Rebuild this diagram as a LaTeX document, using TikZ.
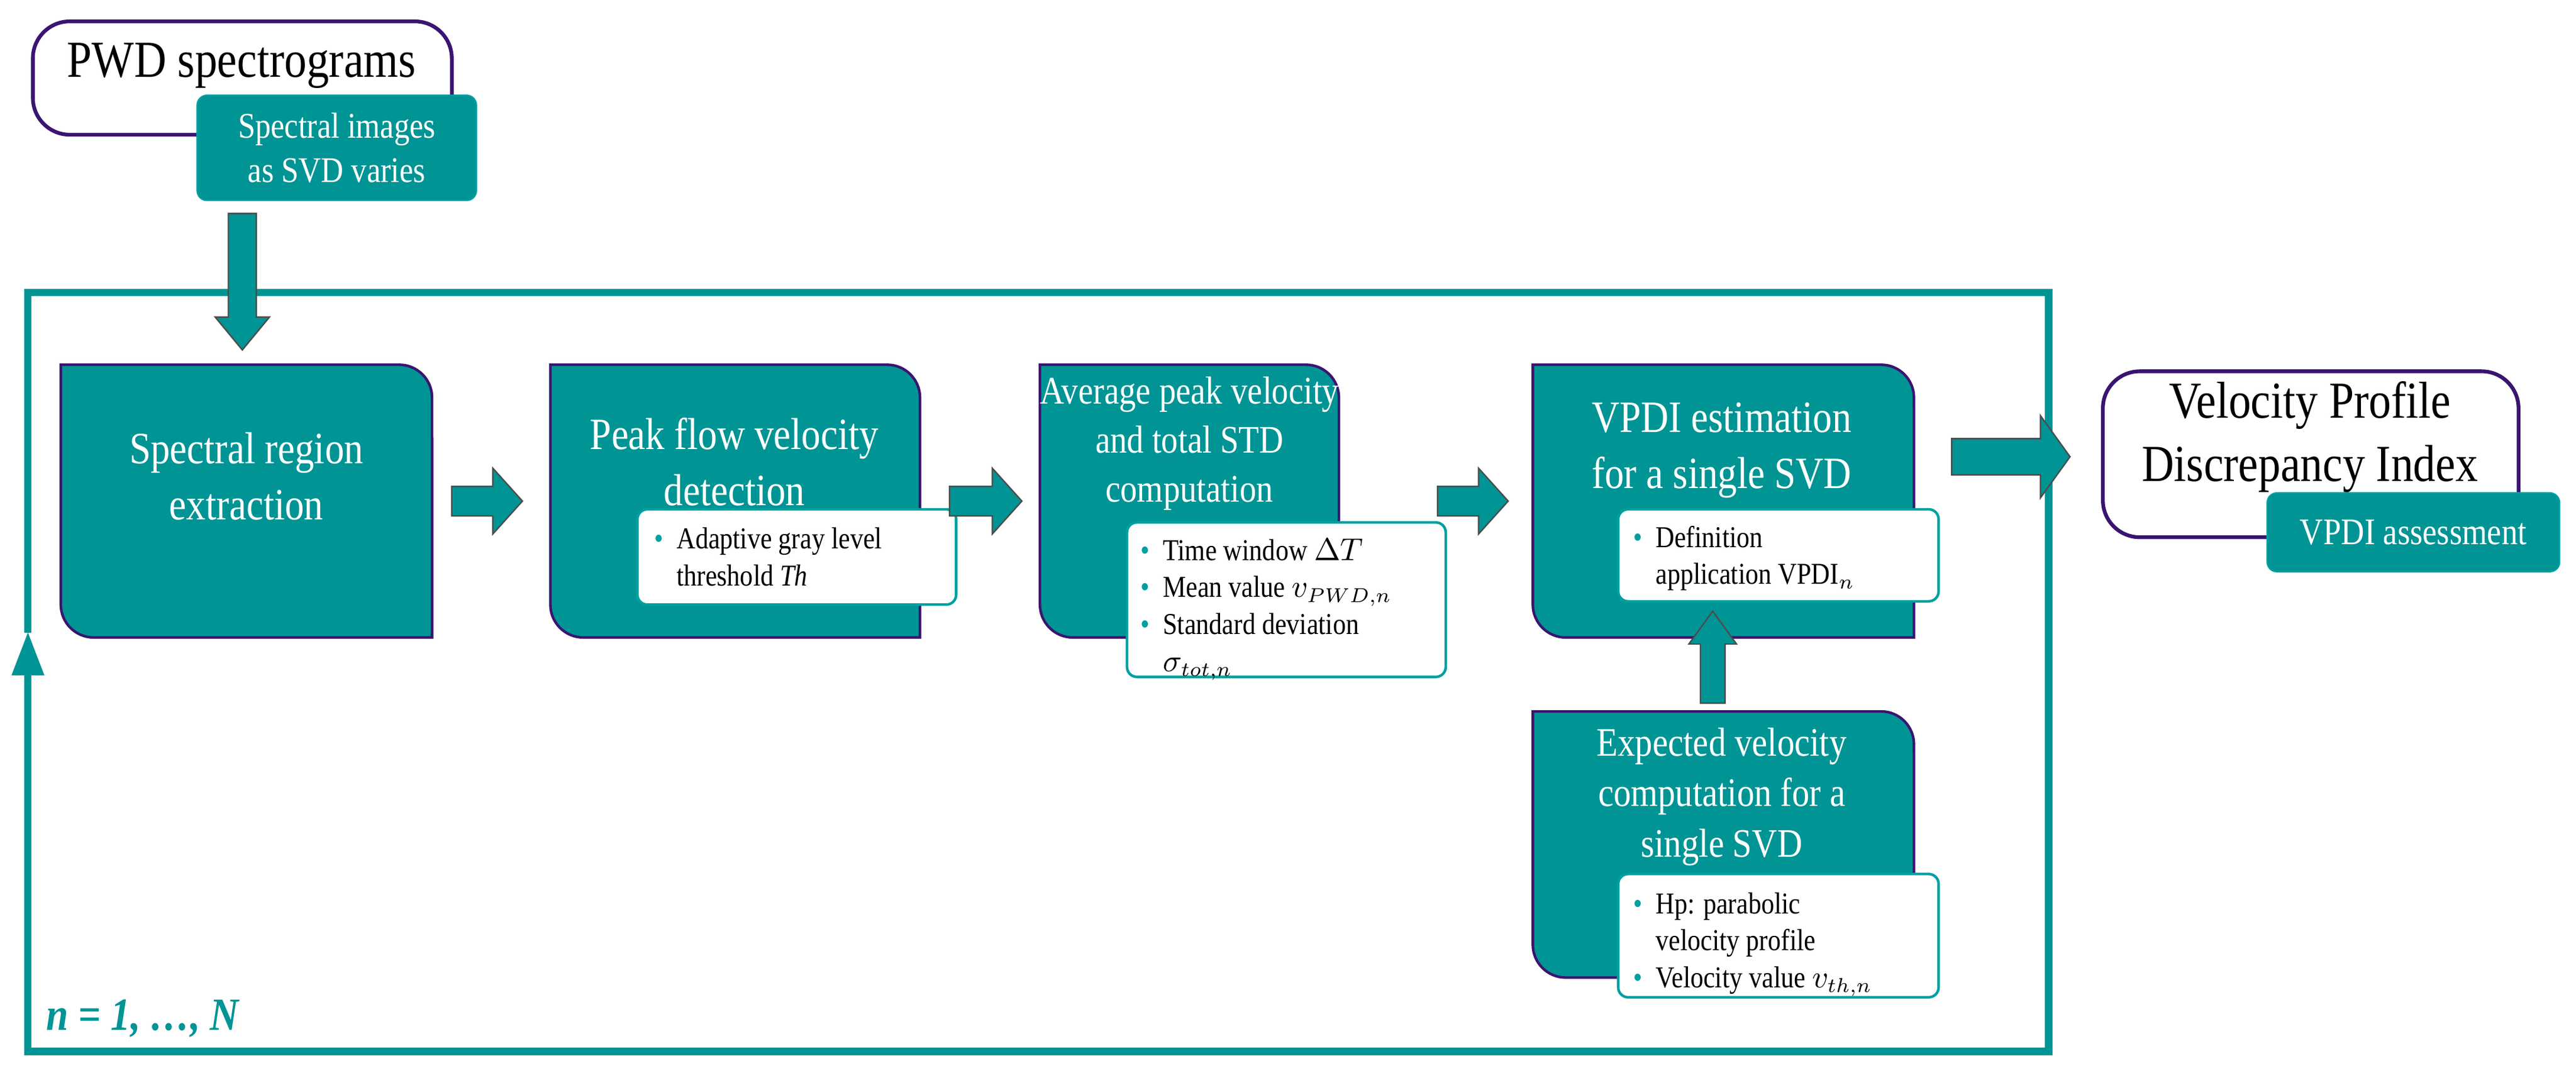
\documentclass[tikz,border=0pt]{standalone}
\usepackage{fontspec}
\setmainfont[FakeStretch=0.86]{Liberation Serif}
\usepackage{amsmath}
\definecolor{teal1}{HTML}{009494}
\definecolor{tealb}{HTML}{00A0A0}
\definecolor{purp}{HTML}{3A1470}
\begin{document}
\begin{tikzpicture}[x=0.02cm,y=0.02cm,
  btxt/.style={text=white,align=center,font=\fontsize{15.5}{19.5}\selectfont},
  stxt/.style={text=black,align=left,font=\fontsize{10.5}{12.8}\selectfont,anchor=north west,inner sep=0pt},
  arr/.style={fill=teal1,draw=black!70,line width=0.5pt,line join=miter},
  frame/.style={draw=teal1,line width=2.5pt}]
\useasboundingbox (0,0) rectangle (1568,653);
% macros
\newcommand\mybx[5]{% name x1 y1 x2 y2 (display y downward)
  \path[fill=teal1,draw=purp,line width=0.9pt] (#2,{653-#3}) -- ({#4-20},{653-#3}) arc[start angle=90,end angle=0,radius=0.4cm] -- (#4,{653-#5}) -- ({#2+20},{653-#5}) arc[start angle=270,end angle=180,radius=0.4cm] -- cycle;
  \coordinate (#1) at ({(#2+#4)/2},{653-(#3+#5)/2});}
\newcommand\mysb[5]{%
  \path[fill=white,draw=tealb,line width=0.9pt,rounded corners=0.12cm] (#2,{653-#3}) rectangle (#4,{653-#5});
  \coordinate (#1) at (#2,{653-#3});}
\newcommand\rarr[5]{% x1 x2 yc shafthalf headhalf
  \path[arr] (#1,{653-#3+#4}) -- ({#2-18},{653-#3+#4}) -- ({#2-18},{653-#3+#5}) -- (#2,{653-#3}) -- ({#2-18},{653-#3-#5}) -- ({#2-18},{653-#3-#4}) -- (#1,{653-#3-#4}) -- cycle;}
\newcommand\bul{\textcolor{tealb}{\textbullet}}
% frame
\draw[frame] (17,{653-385}) -- (17,{653-178}) -- (1247,{653-178}) -- (1247,{653-640}) -- (17,{653-640}) -- (17,{653-410});
\fill[teal1] (17,{653-385}) -- (7,{653-411}) -- (27,{653-411}) -- cycle;
\node[text=teal1,font=\fontsize{16}{18}\selectfont\bfseries\itshape,anchor=west] (nn) at (22,{653-620}) {n = 1, …, N};
% PWD
\path[fill=white,draw=purp,line width=1.3pt,rounded corners=0.45cm] (20,{653-13}) rectangle (275,{653-82});
\node[font=\fontsize{18}{20}\selectfont] (pwd) at (147,{653-40}) {PWD spectrograms};
\path[fill=teal1,draw=tealb,line width=0.5pt,rounded corners=0.12cm] (120,{653-58}) rectangle (290,{653-122});
\node[btxt,font=\fontsize{12.5}{15.5}\selectfont] (pwdt) at (205,{653-90}) {Spectral images\\as SVD varies};
% down arrow
\path[arr] (139,{653-130}) -- (156,{653-130}) -- (156,{653-193}) -- (164,{653-193}) -- (147.5,{653-213}) -- (131,{653-193}) -- (139,{653-193}) -- cycle;
% boxes
\mybx{b1}{37}{222}{263}{388}
\node[btxt] (t1) at (150,{653-290}) {Spectral region\\extraction};
\mybx{b2}{335}{222}{560}{388}
\node[btxt] (t2) at (447,{653-281}) {Peak flow velocity\\detection};
\mysb{s2}{388}{310}{582}{368}
\node[stxt] (st2) at (398,{653-318}) {\begin{tabular}{@{}l@{\ \ }l@{}}\bul & Adaptive gray level\\ & threshold \textit{Th}\end{tabular}};
\mybx{b3}{633}{222}{815}{388}
\node[btxt,font=\fontsize{13.5}{17}\selectfont] (t3) at (724,{653-270}) {Average peak velocity\\and total STD\\computation};
\mysb{s3}{686}{318}{880}{412}
\node[stxt] (st3) at (694,{653-325}) {\begin{tabular}{@{}l@{\ \ }l@{}}\bul & Time window $\Delta T$\\\bul & Mean value $v_{PWD,n}$\\\bul & Standard deviation\\ & $\sigma_{tot,n}$\end{tabular}};
\mybx{b4}{933}{222}{1165}{388}
\node[btxt] (t4) at (1048,{653-274}) {VPDI estimation\\for a single SVD};
\mysb{s4}{985}{310}{1180}{366}
\node[stxt] (st4) at (994,{653-317}) {\begin{tabular}{@{}l@{\ \ }l@{}}\bul & Definition\\ & application VPDI$_{n}$\end{tabular}};
\mybx{b5}{933}{433}{1165}{595}
\node[btxt,font=\fontsize{14}{17.5}\selectfont] (t5) at (1048,{653-485}) {Expected velocity\\computation for a\\single SVD};
\mysb{s5}{985}{532}{1180}{607}
\node[stxt] (st5) at (994,{653-540}) {\begin{tabular}{@{}l@{\ \ }l@{}}\bul & Hp: parabolic\\ & velocity profile\\\bul & Velocity value $v_{th,n}$\end{tabular}};
% up arrow
\path[arr] (1035,{653-428}) -- (1050,{653-428}) -- (1050,{653-392}) -- (1057,{653-392}) -- (1042.5,{653-372}) -- (1028,{653-392}) -- (1035,{653-392}) -- cycle;
% right arrows
\rarr{275}{318}{305}{9}{20}
\rarr{578}{622}{305}{9}{20}
\rarr{875}{918}{305}{9}{20}
\rarr{1188}{1260}{278}{11}{25}
% VPDI
\path[fill=white,draw=purp,line width=1.3pt,rounded corners=0.45cm] (1280,{653-226}) rectangle (1533,{653-327});
\node[font=\fontsize{18}{22}\selectfont,align=center] (vp) at (1406,{653-266}) {Velocity Profile\\Discrepancy Index};
\path[fill=teal1,draw=tealb,line width=0.5pt,rounded corners=0.12cm] (1380,{653-300}) rectangle (1558,{653-348});
\node[btxt,font=\fontsize{13}{15}\selectfont] (vpt) at (1469,{653-324}) {VPDI assessment};
\end{tikzpicture}
\end{document}
